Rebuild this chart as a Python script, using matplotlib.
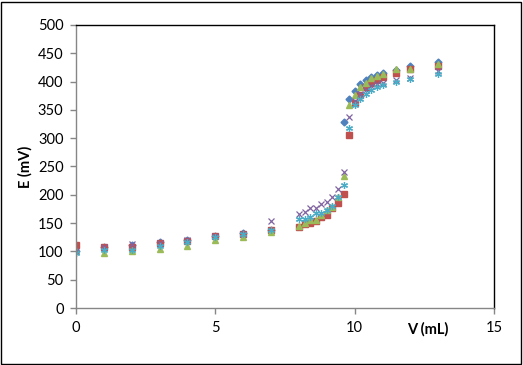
import matplotlib.pyplot as plt
from matplotlib.patches import Rectangle

plt.rcParams['font.family'] = ['Lato', 'DejaVu Sans']

nan = float('nan')

vol = [0, 1, 2, 3, 4, 5, 6, 7, 8, 8.2, 8.4, 8.6, 8.8, 9, 9.2, 9.4,
       9.6, 9.8, 10, 10.2, 10.4, 10.6, 10.8, 11, 11.5, 12, 13]

e1 = [100, 108, 112, 116, 120, 128, 132, 138, nan, nan, nan, nan, nan, nan, nan, nan,
      329, 369, 383, 395, 402, 409, 412, 415, 420, 427, 434]
e2 = [111, 107, 107, 115, 119, 127, 130, 137, 143, 148, 151, 154, 161, 164, 176, 186,
      201, 306, 362, 376, 391, 397, 403, 408, 415, 422, 428]
e3 = [100, 97, 100, 104, 110, 121, 126, 135, 145, 151, 155, 155, 164, 173, 179, 196,
      234, 359, 376, 390, 397, 406, 410, 413, 422, 423, 431]
e4 = [100, 108, 113, 114, 121, 127, 131, 154, 166, 170, 176, 177, 184, 188, 196, 211,
      240, 337, 365, 378, 385, 392, 395, 398, 402, 407, 418]
e5 = [98, 102, 103, 110, 117, 125, 130, 138, 157, 158, 161, 167, 168, 174, 180, 196,
      217, 318, 359, 370, 378, 386, 390, 394, 399, 405, 413]

fig = plt.figure(figsize=(5.23, 3.65), dpi=100)
ax = fig.add_axes([76/523, 1 - 308/365, 418/523, 283/365])

ax.plot(vol, e1, 'D', color='#4F81BD', ms=3.5, ls='none')
ax.plot(vol, e2, 's', color='#C0504D', ms=4, ls='none')
ax.plot(vol, e3, '^', color='#9BBB59', ms=4.5, ls='none')
ax.plot(vol, e4, 'x', color='#8064A2', ms=4.5, mew=0.9, ls='none')
ax.plot(vol, e5, marker=(6, 2, 0), color='#4BACC6', ms=5, mew=0.9, ls='none')

ax.set_xlim(0, 15)
ax.set_ylim(0, 500)
ax.set_xticks([0, 5, 10, 15])
ax.set_yticks(range(0, 501, 50))
ax.tick_params(direction='out', length=4, width=1, color='#868686', labelsize=10.5, pad=5)
ax.spines['left'].set_color('#868686')
ax.spines['bottom'].set_color('#868686')
ax.spines['top'].set_color('black')
ax.spines['right'].set_color('black')
for s in ax.spines.values():
    s.set_linewidth(1)

ax.set_ylabel('E (mV)', fontsize=10.5, fontweight='bold', labelpad=4)
fig.text(428/523, 1 - 329/365, 'V (mL)', fontsize=10.5, fontweight='bold',
         ha='center', va='center')

fig.patches.append(Rectangle((1/523, 1/365), 520/523, 362/365, transform=fig.transFigure,
                             fill=False, edgecolor='black', lw=1))

fig.savefig('out.png', dpi=100)
